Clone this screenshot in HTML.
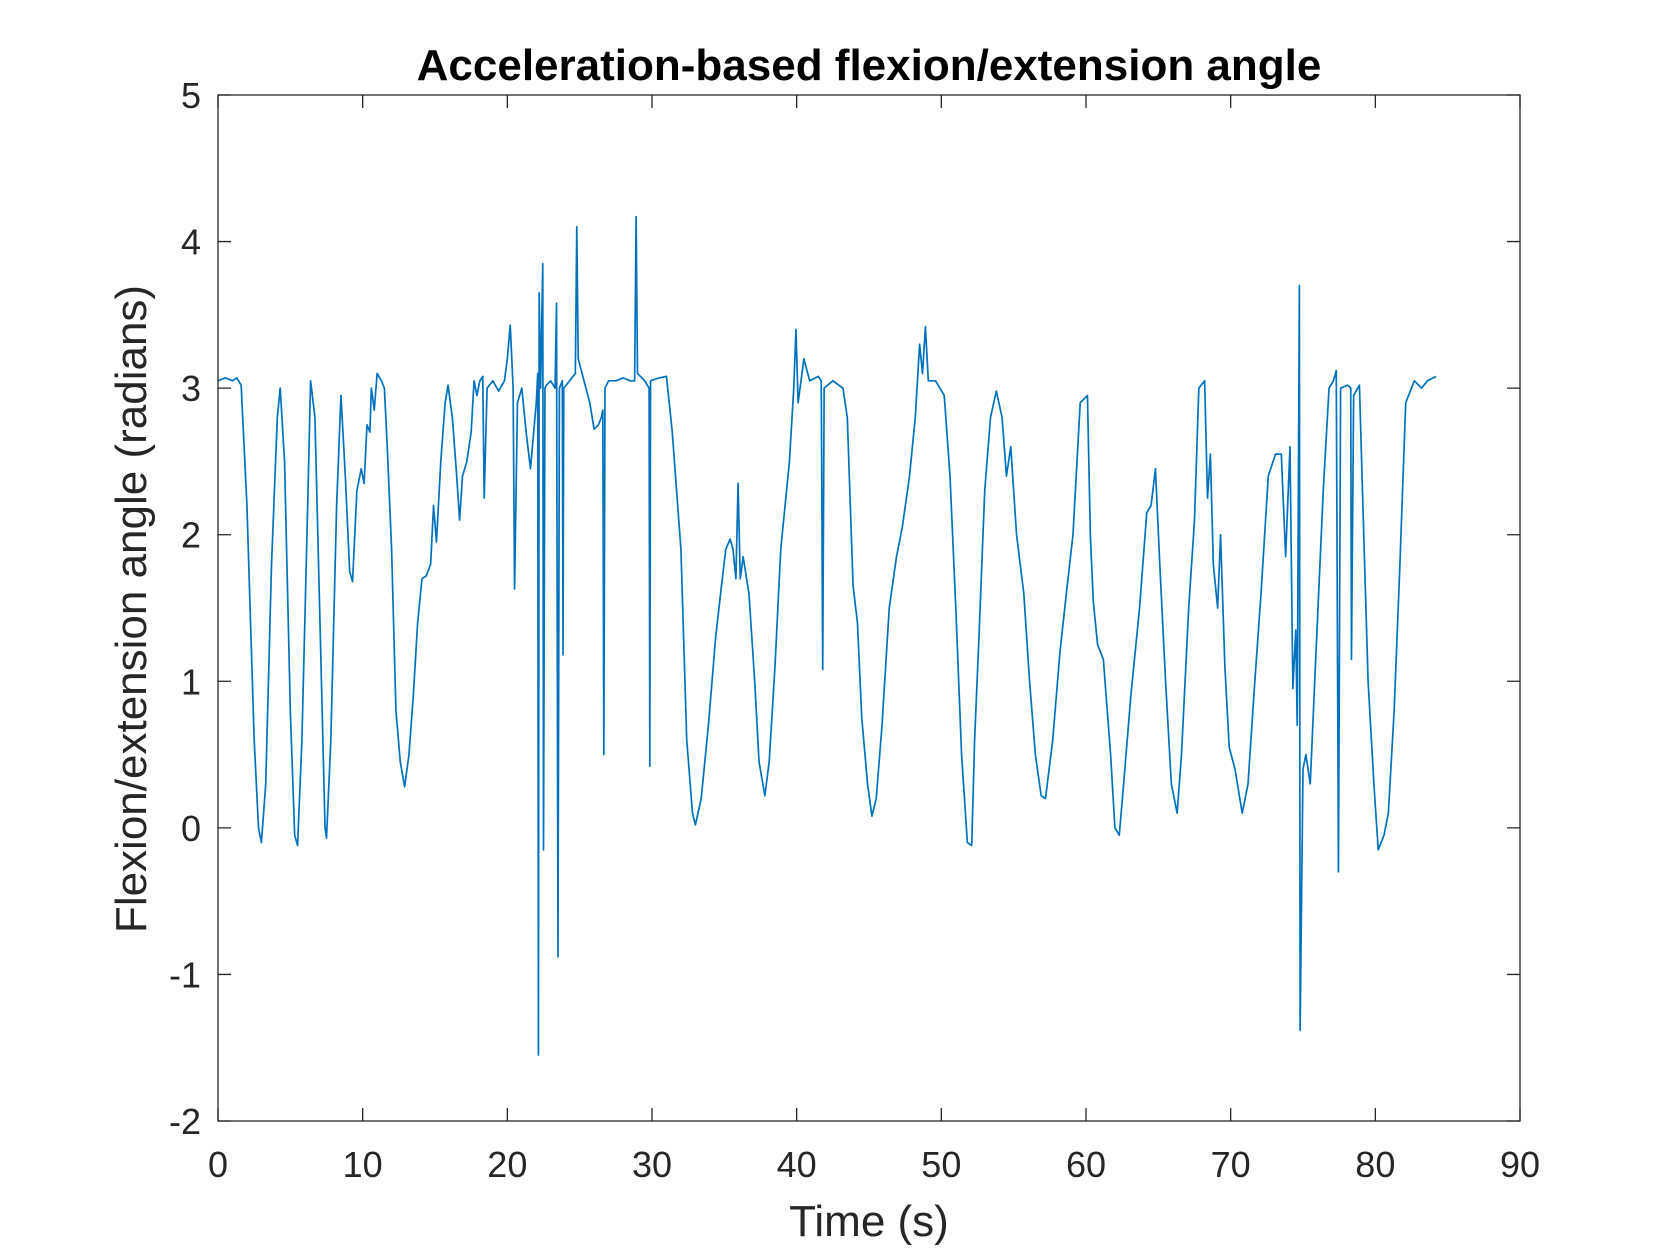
<!DOCTYPE html>
<html><head><meta charset="utf-8"><style>
html,body{margin:0;padding:0;background:#fff;}
svg{display:block;font-family:"Liberation Sans",Arial,sans-serif;}
</style></head><body>
<svg id="chart" width="1680" height="1260" viewBox="0 0 1680 1260">
<rect x="0" y="0" width="1680" height="1260" fill="#fff"/>
<g id="series"></g>
<rect x="218" y="95" width="1302" height="1026" fill="none" stroke="#262626" stroke-width="1.3"/>
<g id="ticks"></g>
<text x="869" y="80" text-anchor="middle" font-size="44" font-weight="bold" fill="#000">Acceleration-based flexion/extension angle</text>
<text x="869" y="1236" text-anchor="middle" font-size="44" fill="#262626">Time (s)</text>
<text transform="translate(146,609) rotate(-90)" text-anchor="middle" font-size="44" fill="#262626">Flexion/extension angle (radians)</text>
</svg>
<script>
const xTicks=[0,10,20,30,40,50,60,70,80,90];
const yTicks=[-2,-1,0,1,2,3,4,5];
const times=[0,0.5,1.0,1.3,1.6,2.0,2.5,2.8,3.0,3.3,3.7,4.1,4.3,4.6,5.0,5.3,5.5,5.8,6.2,6.4,6.7,7.0,7.4,7.5,7.8,8.2,8.5,8.8,9.1,9.3,9.6,9.9,10.1,10.3,10.5,10.6,10.8,11.0,11.3,11.5,11.7,12.0,12.3,12.6,12.9,13.2,13.5,13.8,14.1,14.4,14.7,14.9,15.1,15.4,15.7,15.9,16.2,16.5,16.7,16.9,17.2,17.5,17.7,17.9,18.1,18.3,18.4,18.6,19.0,19.4,19.8,20.0,20.2,20.4,20.5,20.7,21.0,21.3,21.6,22.0,22.1,22.15,22.2,22.3,22.45,22.5,22.6,22.7,23.0,23.3,23.4,23.5,23.6,23.8,23.85,23.9,24.3,24.7,24.8,24.9,25.3,25.7,26.0,26.3,26.5,26.6,26.67,26.75,27.0,27.5,28.0,28.5,28.8,28.9,29.0,29.5,29.8,29.85,29.9,30.5,31.0,31.4,31.7,32.0,32.4,32.8,33.0,33.4,33.9,34.4,34.8,35.1,35.4,35.6,35.8,35.95,36.1,36.3,36.7,37.1,37.4,37.8,38.1,38.5,38.9,39.5,39.8,39.95,40.1,40.5,40.9,41.5,41.7,41.8,41.9,42.5,43.2,43.5,43.9,44.2,44.5,44.9,45.2,45.5,45.9,46.4,46.9,47.3,47.8,48.2,48.5,48.7,48.9,49.1,49.6,50.2,50.6,51.0,51.4,51.8,52.1,52.3,52.6,53.0,53.4,53.8,54.2,54.5,54.8,55.2,55.7,56.1,56.5,56.9,57.2,57.7,58.2,58.7,59.1,59.6,60.1,60.3,60.5,60.8,61.2,61.7,62.0,62.3,62.6,63.1,63.7,64.2,64.5,64.8,65.1,65.5,65.9,66.3,66.6,67.1,67.5,67.8,68.2,68.4,68.6,68.8,69.1,69.3,69.6,69.9,70.3,70.8,71.2,71.6,72.1,72.6,73.1,73.5,73.8,74.1,74.3,74.5,74.6,74.75,74.8,75.0,75.2,75.5,75.9,76.4,76.8,77.1,77.3,77.45,77.6,78.1,78.3,78.35,78.5,78.9,79.2,79.5,79.9,80.2,80.6,80.9,81.3,81.7,82.1,82.7,83.2,83.6,84.2];
const angles=[3.05,3.07,3.05,3.07,3.02,2.2,0.6,0.0,-0.1,0.3,1.8,2.8,3.0,2.5,0.8,-0.05,-0.12,0.6,2.2,3.05,2.8,1.6,0.0,-0.07,0.6,2.2,2.95,2.4,1.75,1.68,2.3,2.45,2.35,2.75,2.7,3.0,2.85,3.1,3.05,3.0,2.6,1.9,0.8,0.45,0.28,0.5,0.9,1.4,1.7,1.72,1.8,2.2,1.95,2.5,2.9,3.02,2.8,2.4,2.1,2.4,2.5,2.7,3.05,2.95,3.05,3.08,2.25,3.0,3.05,2.98,3.05,3.2,3.43,3.0,1.63,2.9,3.0,2.7,2.45,2.9,3.1,-1.55,3.65,3.0,3.85,-0.15,3.0,3.02,3.05,3.0,3.58,-0.88,3.0,3.05,1.18,3.0,3.05,3.1,4.1,3.2,3.05,2.9,2.72,2.75,2.8,2.85,0.5,3.0,3.05,3.05,3.07,3.05,3.05,4.17,3.1,3.05,3.0,0.42,3.05,3.07,3.08,2.7,2.3,1.9,0.6,0.1,0.02,0.2,0.7,1.3,1.65,1.9,1.97,1.9,1.7,2.35,1.7,1.85,1.6,1.0,0.45,0.22,0.45,1.1,1.9,2.5,3.0,3.4,2.9,3.2,3.05,3.08,3.05,1.08,3.0,3.05,3.0,2.8,1.65,1.4,0.75,0.3,0.08,0.2,0.7,1.5,1.85,2.05,2.4,2.8,3.3,3.1,3.42,3.05,3.05,2.95,2.4,1.5,0.5,-0.1,-0.12,0.6,1.3,2.3,2.8,2.98,2.8,2.4,2.6,2.0,1.6,1.0,0.5,0.22,0.2,0.6,1.2,1.65,2.0,2.9,2.95,2.0,1.55,1.25,1.15,0.5,0.0,-0.05,0.3,0.9,1.5,2.15,2.2,2.45,1.8,1.0,0.3,0.1,0.5,1.5,2.1,3.0,3.05,2.25,2.55,1.8,1.5,2.0,1.1,0.55,0.4,0.1,0.3,0.9,1.6,2.4,2.55,2.55,1.85,2.6,0.95,1.35,0.7,3.7,-1.38,0.4,0.5,0.3,1.2,2.3,3.0,3.05,3.12,-0.3,3.0,3.02,3.0,1.15,2.95,3.02,2.0,1.0,0.3,-0.15,-0.05,0.1,0.8,1.8,2.9,3.05,3.0,3.05,3.08];
const X0=218,X1=1520,Y0=1121,Y1=95,xMin=0,xMax=90,yMin=-2,yMax=5;
const xs=v=>X0+(v-xMin)/(xMax-xMin)*(X1-X0);
const ys=v=>Y0-(v-yMin)/(yMax-yMin)*(Y0-Y1);
const NS='http://www.w3.org/2000/svg';
const tg=document.getElementById('ticks');
xTicks.forEach(t=>{
  const x=xs(t);
  const l1=document.createElementNS(NS,'path');
  l1.setAttribute('d',`M${x},${Y0}V${Y0-13}M${x},${Y1}V${Y1+13}`);
  l1.setAttribute('stroke','#262626');l1.setAttribute('stroke-width','1.3');
  
  
  tg.appendChild(l1);
  const tx=document.createElementNS(NS,'text');
  tx.setAttribute('x',x);tx.setAttribute('y',1177);tx.setAttribute('text-anchor','middle');
  tx.setAttribute('font-size','36');tx.setAttribute('fill','#262626');
  tx.textContent=t;
  
  
  tg.appendChild(tx);
});
yTicks.forEach(t=>{
  const y=ys(t);
  const l1=document.createElementNS(NS,'path');
  l1.setAttribute('d',`M${X0},${y}H${X0+13}M${X1},${y}H${X1-13}`);
  l1.setAttribute('stroke','#262626');l1.setAttribute('stroke-width','1.3');
  
  
  tg.appendChild(l1);
  const tx=document.createElementNS(NS,'text');
  tx.setAttribute('x',201);tx.setAttribute('y',y+13);tx.setAttribute('text-anchor','end');
  tx.setAttribute('font-size','36');tx.setAttribute('fill','#262626');
  tx.textContent=t;
  
  
  tg.appendChild(tx);
});
const d=times.map((t,i)=>(i?'L':'M')+xs(t).toFixed(2)+','+ys(angles[i]).toFixed(2)).join('');
const p=document.createElementNS(NS,'path');
p.setAttribute('d',d);p.setAttribute('fill','none');p.setAttribute('stroke','#0072BD');
p.setAttribute('stroke-width','1.7');p.setAttribute('stroke-linejoin','round');


document.getElementById('series').appendChild(p);
</script>
</body></html>
